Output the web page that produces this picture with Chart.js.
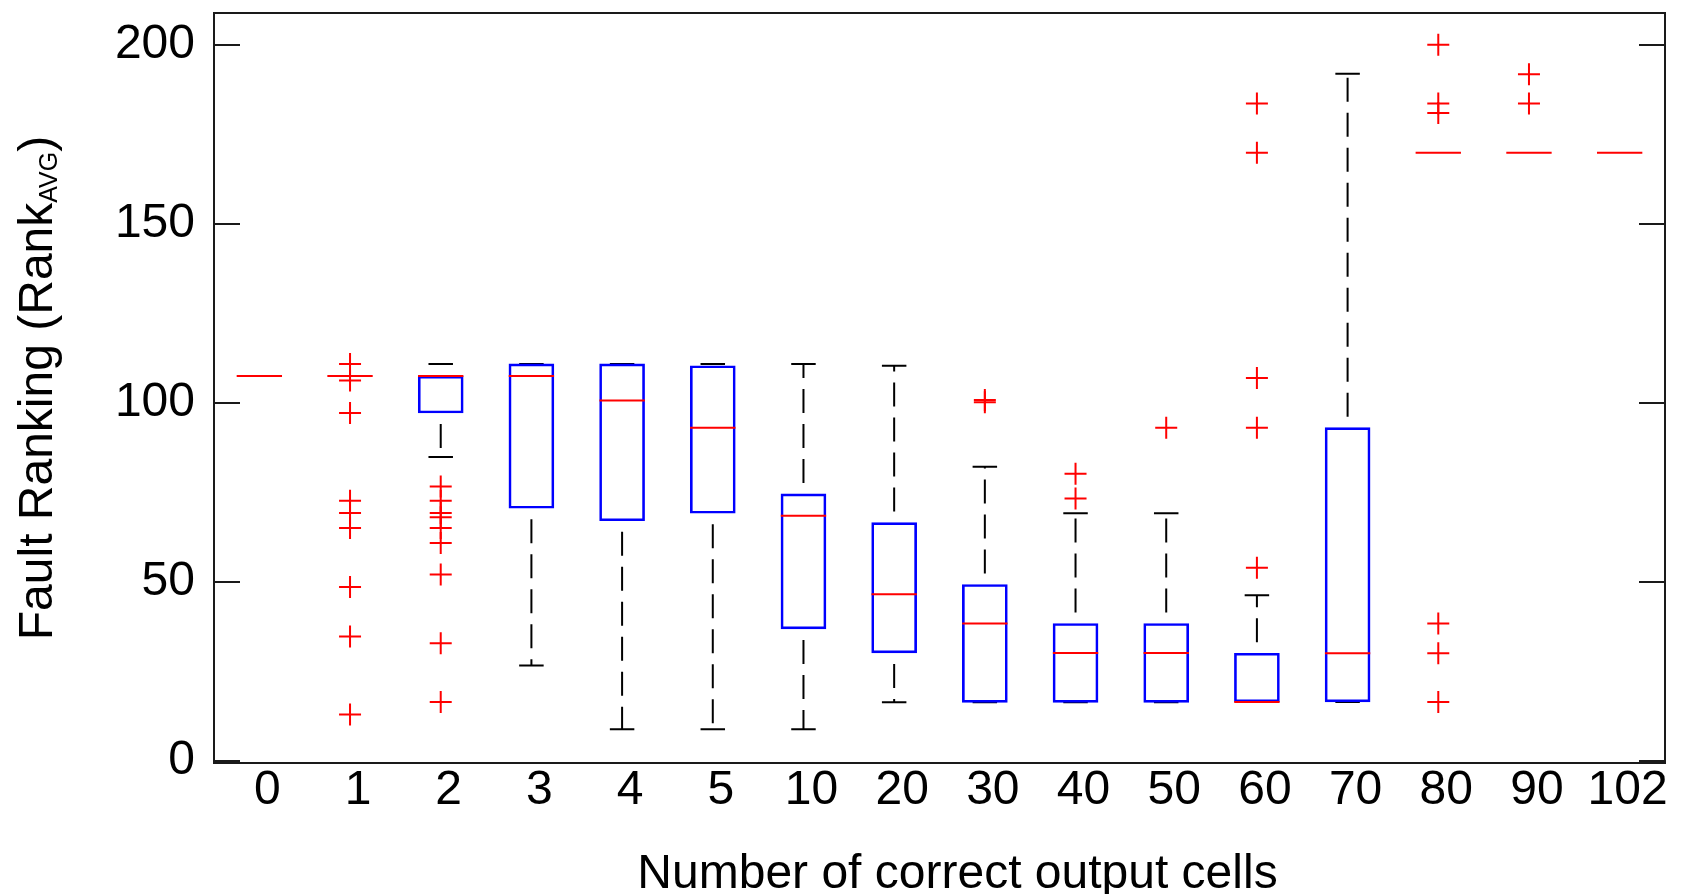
<!DOCTYPE html>
<html>
<head>
<meta charset="utf-8">
<script src="https://cdn.jsdelivr.net/npm/chart.js@4.4.1/dist/chart.umd.min.js"></script>
<style>
  html, body { margin: 0; padding: 0; background: #ffffff; }
  #wrap { width: 1692px; height: 894px; position: relative; }
</style>
</head>
<body>
<div id="wrap"><canvas id="c"></canvas></div>
<script>
// ---- data ----
const categories  = ['0','1','2','3','4','5','10','20','30','40','50','60','70','80','90','102'];
const medians     = [107.5,107.5,107.5,107.5,100.7,93.1,68.5,46.6,38.4,30.2,30.2,16.5,30.1,169.9,169.9,169.9];
const boxLow      = [null,null,97.2,70.6,67.1,69.2,36.9,30.2,16.4,16.4,16.4,16.5,16.5,null,null,null];
const boxHigh     = [null,null,107.5,110.9,110.9,110.4,74.6,66.6,49.3,38.4,38.4,30.1,93.1,null,null,null];
const whiskerLow  = [null,null,84.9,26.7,8.9,8.9,8.9,16.4,16.4,16.4,16.4,16.5,16.5,null,null,null];
const whiskerHigh = [null,null,110.9,110.9,110.9,110.9,110.9,110.4,82.2,69.2,69.2,46.3,191.9,null,null,null];
const outliers = [
  [],
  [110.9,106.3,97.2,72.7,69.3,65.1,48.6,34.8,13.0],
  [76.7,72.7,69.3,68.1,65.1,60.9,52.1,32.9,16.5],
  [], [], [], [], [],
  [100.2,100.8],
  [80.2,73.3],
  [93.1],
  [183.6,169.9,107.0,93.1,54.0],
  [],
  [200.0,183.6,181.0,38.4,30.1,16.5],
  [191.8,183.6],
  []
];
const yTicks = [0,50,100,150,200];
const xTitle = 'Number of correct output cells';
const yTitleMain = 'Fault Ranking (Rank';
const yTitleSub = 'AVG';
const yTitleEnd = ')';

// ---- build library datasets from the arrays ----
const BOX_HALF = 0.25, CAP_HALF = 0.135;
const boxData = [];
const medianData = [];
const whiskerData = [];
const capData = [];
const outlierData = [];
categories.forEach((c, i) => {
  medianData.push({x: i - BOX_HALF, y: medians[i]}, {x: i + BOX_HALF, y: medians[i]}, {x: i, y: null});
  if (boxLow[i] !== null) {
    boxData.push({x: i, y: [boxLow[i], boxHigh[i]]});
    if (whiskerHigh[i] > boxHigh[i]) whiskerData.push({x: i, y: boxHigh[i]}, {x: i, y: whiskerHigh[i]}, {x: i, y: null});
    if (whiskerLow[i] < boxLow[i]) whiskerData.push({x: i, y: boxLow[i]}, {x: i, y: whiskerLow[i]}, {x: i, y: null});
    capData.push({x: i - CAP_HALF, y: whiskerHigh[i]}, {x: i + CAP_HALF, y: whiskerHigh[i]}, {x: i, y: null});
    capData.push({x: i - CAP_HALF, y: whiskerLow[i]}, {x: i + CAP_HALF, y: whiskerLow[i]}, {x: i, y: null});
  }
  outliers[i].forEach(v => outlierData.push({x: i, y: v}));
});

const FONT = '"Liberation Sans", Arial, sans-serif';

const frame = {
  id: 'frame',
  afterDraw(chart) {
    const {ctx, chartArea: a, scales: {y}} = chart;
    ctx.save();
    ctx.strokeStyle = '#1a1a1a';
    ctx.lineWidth = 2;
    ctx.strokeRect(a.left, a.top, a.right - a.left, a.bottom - a.top);
    ctx.beginPath();
    yTicks.forEach(v => {
      const py = Math.round(y.getPixelForValue(v));
      ctx.moveTo(a.left, py); ctx.lineTo(a.left + 26, py);
      ctx.moveTo(a.right, py); ctx.lineTo(a.right - 26, py);
    });
    ctx.stroke();

    // x title
    ctx.fillStyle = '#000';
    ctx.font = '48px ' + FONT;
    ctx.textAlign = 'center';
    ctx.textBaseline = 'alphabetic';
    ctx.fillText(xTitle, (a.left + a.right) / 2 + 18, 888);

    // y title with subscript
    const mainFont = '48px ' + FONT, subFont = '25px ' + FONT;
    ctx.font = mainFont;
    const w1 = ctx.measureText(yTitleMain).width;
    const w3 = ctx.measureText(yTitleEnd).width;
    ctx.font = subFont;
    const w2 = ctx.measureText(yTitleSub).width;
    const total = w1 + w2 + w3;
    const cy = (a.top + a.bottom) / 2;
    ctx.translate(52, cy + total / 2);
    ctx.rotate(-Math.PI / 2);
    ctx.textAlign = 'left';
    ctx.font = mainFont; ctx.fillText(yTitleMain, 0, 0);
    ctx.font = subFont;  ctx.fillText(yTitleSub, w1, 5);
    ctx.font = mainFont; ctx.fillText(yTitleEnd, w1 + w2, 0);
    ctx.restore();
  }
};

new Chart(document.getElementById('c'), {
  type: 'line',
  data: {
    datasets: [
      { label: 'outliers', type: 'line', data: outlierData, showLine: false, order: 0,
        pointStyle: 'cross', pointRadius: 11, pointBorderWidth: 2,
        pointBorderColor: '#ff0000', pointBackgroundColor: '#ff0000' },
      { label: 'median', type: 'line', data: medianData, order: 1,
        borderColor: '#ff0000', borderWidth: 2, pointRadius: 0, spanGaps: false, tension: 0, fill: false },
      { label: 'box', type: 'bar', data: boxData, order: 2,
        backgroundColor: 'rgba(0,0,0,0)', borderColor: '#0000ff', borderWidth: 2,
        borderSkipped: false, barThickness: 45 },
      { label: 'caps', type: 'line', data: capData, order: 3,
        borderColor: '#000000', borderWidth: 2, pointRadius: 0, spanGaps: false, tension: 0, fill: false },
      { label: 'whiskers', type: 'line', data: whiskerData, order: 4,
        borderColor: '#000000', borderWidth: 2, borderDash: [24, 11], borderDashOffset: 24,
        pointRadius: 0, spanGaps: false, tension: 0, fill: false }
    ]
  },
  options: {
    responsive: true,
    maintainAspectRatio: false,
    animation: false,
    devicePixelRatio: 1,
    events: [],
    layout: { padding: { left: 104, right: 27, top: 9, bottom: 0 } },
    plugins: { legend: { display: false }, tooltip: { enabled: false } },
    scales: {
      x: {
        type: 'linear', min: -0.5, max: 15.5, offset: false,
        grid: { display: false, offset: false }, border: { display: false },
        afterBuildTicks: s => { s.ticks = categories.map((c, i) => ({value: i})); },
        afterFit: s => { s.height = 131; s.paddingLeft = 0; s.paddingRight = 0; },
        ticks: {
          autoSkip: false, maxRotation: 0, minRotation: 0, padding: 1, labelOffset: 8,
          color: '#000', font: { family: FONT, size: 48, lineHeight: 0.8 },
          callback: v => categories[v]
        }
      },
      y: {
        type: 'linear', min: -0.55, max: 208.9,
        grid: { display: false }, border: { display: false },
        afterBuildTicks: s => { s.ticks = yTicks.map(v => ({value: v})); },
        afterFit: s => { s.width = 110; s.paddingTop = 0; s.paddingBottom = 0; },
        ticks: {
          padding: 11, color: '#000', font: { family: FONT, size: 48, lineHeight: 0.8 },
          callback: v => String(v)
        }
      }
    }
  },
  plugins: [frame]
});
</script>
</body>
</html>
